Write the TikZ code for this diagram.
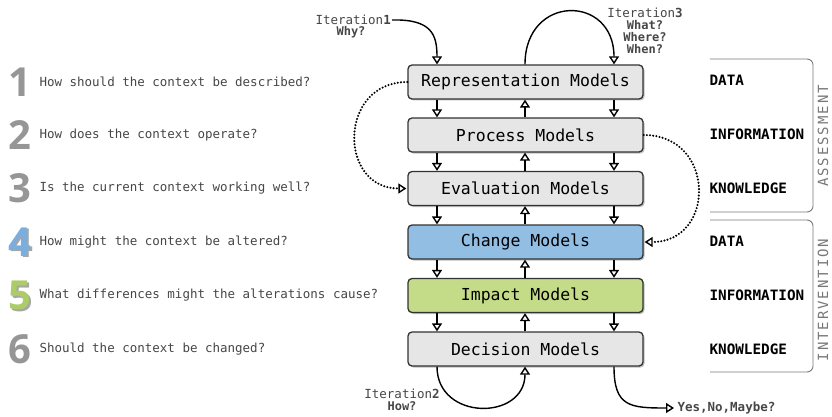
\documentclass[tikz,border=0pt]{standalone}
\usepackage{fontspec}
\setmainfont{DejaVu Sans}
\setmonofont{DejaVu Sans Mono}
\newfontfamily\numfont{Open Sans}
\newfontfamily\spacedmono[LetterSpace=14]{DejaVu Sans Mono}
\usetikzlibrary{arrows.meta,shadows,calc}
\definecolor{boxgray}{RGB}{230,230,230}
\definecolor{boxblue}{RGB}{146,190,228}
\definecolor{boxgreen}{RGB}{196,220,136}
\definecolor{numgray}{RGB}{150,150,150}
\definecolor{numblue}{RGB}{122,174,222}
\definecolor{numgreen}{RGB}{172,204,104}
\definecolor{txtgray}{RGB}{70,70,70}
\definecolor{framegray}{RGB}{120,120,120}
\tikzset{
  model/.style={draw=black!80, line width=1.3pt, rounded corners=4pt,
    minimum width=235pt, minimum height=34pt, fill=boxgray,
    font=\ttfamily\fontsize{16.5}{18}\selectfont,
    drop shadow={shadow xshift=1.5pt, shadow yshift=-1.5pt, opacity=0.25, fill=black}},
  arr/.style={line width=1.4pt, -{Triangle[open, width=10pt, length=8pt]}},
  dots/.style={line width=2.3pt, line cap=round, dash pattern=on 0pt off 3.2pt,
    -{Triangle[open, width=10pt, length=8pt, line width=1.4pt, sep=1pt]}},
  question/.style={anchor=west, text=txtgray, font=\ttfamily\fontsize{12.5}{14}\selectfont},
  bignum/.style={font=\numfont\bfseries\fontsize{40}{40}\selectfont},
  level/.style={anchor=west, font=\ttfamily\bfseries\fontsize{14.3}{16}\selectfont},
  phase/.style={rotate=90, inner sep=0pt, text=framegray, font=\spacedmono\fontsize{14}{14}\selectfont},
  iter/.style={text=txtgray, align=center, inner sep=1pt, font=\ttfamily\fontsize{12.5}{12}\selectfont},
  frame/.style={draw=framegray, line width=0.9pt, rounded corners=6pt},
}
\begin{document}
\begin{tikzpicture}[x=1pt, y=-1pt]
\useasboundingbox (0,0) rectangle (832,417);

% the six model layers
\node[model] (rep)  at (525.5,82)  {Representation Models};
\node[model] (proc) at (525.5,135) {Process Models};
\node[model] (eval) at (525.5,188.5) {Evaluation Models};
\node[model, fill=boxblue] (chg) at (525.5,242) {Change Models};
\node[model, fill=boxgreen] (imp) at (525.5,295.5) {Impact Models};
\node[model] (dec)  at (525.5,349) {Decision Models};

% columns of the vertical flows
\coordinate (lx) at (437,0);
\coordinate (cx) at (525,0);
\coordinate (rx) at (614,0);

\foreach \a/\b in {rep/proc, proc/eval, eval/chg, chg/imp, imp/dec}{
  \draw[arr] (\a.south -| lx) -- (\b.north -| lx);
  \draw[arr] (\a.south -| rx) -- (\b.north -| rx);
  \draw[arr] (\b.north -| cx) -- (\a.south -| cx);
}

% iteration loops
\node[iter, anchor=east] (it1) at (392,20) {Iteration\textbf{1}};
\node[iter, font=\ttfamily\bfseries\fontsize{12}{12}\selectfont] (why) at (351,32) {Why?};
\draw[arr] (it1.east) .. controls (432,19) and (437,35) .. (rep.north -| lx);

\draw[arr] (rep.north -| cx) .. controls (525,-6) and (614,-6) .. (rep.north -| rx);
\node[iter, anchor=north] (it3) at (645,7) {Iteration\textbf{3}\\
  {\bfseries\fontsize{12}{12}\selectfont What?}\\
  {\bfseries\fontsize{12}{12}\selectfont Where?}\\
  {\bfseries\fontsize{12}{12}\selectfont When?}};

\draw[arr] (dec.south -| lx) .. controls (437,421) and (525,421) .. (dec.south -| cx);
\node[iter, anchor=north] (it2) at (402,388) {Iteration\textbf{2}\\
  {\bfseries\fontsize{12}{12}\selectfont How?}};

\node[anchor=west, text=txtgray, font=\ttfamily\bfseries\fontsize{12.5}{14}\selectfont]
  (ans) at (674,408) {Yes,No,Maybe?};
\draw[arr] (dec.south -| rx) .. controls (614,407) and (630,408) .. (ans.west);

% dotted feedback links
\draw[dots] (rep.west) .. controls (338,82) and (338,188.5) .. (eval.west);
\draw[dots] (proc.east) .. controls (716,135) and (716,242) .. (chg.east);

% questions with their numbers
\foreach \n/\y/\c/\q in {
  1/82/numgray/How should the context be described?,
  2/135/numgray/How does the context operate?,
  3/188.5/numgray/Is the current context working well?,
  6/349/numgray/Should the context be changed?}{
  \node[bignum, text=\c] (num\n) at (20,\y) {\n};
  \node[question] (q\n) at (36,\y) {\q};
}
\node[bignum, text=black!35] (sh4) at (21.5,243.5) {4};
\node[bignum, text=numblue] (num4) at (20,242) {4};
\node[question] (q4) at (36,242) {How might the context be altered?};
\node[bignum, text=black!35] (sh5) at (21.5,297) {5};
\node[bignum, text=numgreen] (num5) at (20,295.5) {5};
\node[question] (q5) at (36,295.5) {What differences might the alterations cause?};

% knowledge levels
\node[level] (d1) at (706,80)  {DATA};
\node[level] (i1) at (706,134) {INFORMATION};
\node[level] (k1) at (706,188) {KNOWLEDGE};
\node[level] (d2) at (706,241) {DATA};
\node[level] (i2) at (706,295) {INFORMATION};
\node[level] (k2) at (706,349) {KNOWLEDGE};

% phase brackets
\draw[frame] (710,59) -| (813,212) -- (710,212);
\draw[frame] (710,220) -| (813,372) -- (710,372);
\node[phase] (ass) at (823,136) {ASSESSMENT};
\node[phase] (int) at (823,300) {INTERVENTION};
\end{tikzpicture}
\end{document}
